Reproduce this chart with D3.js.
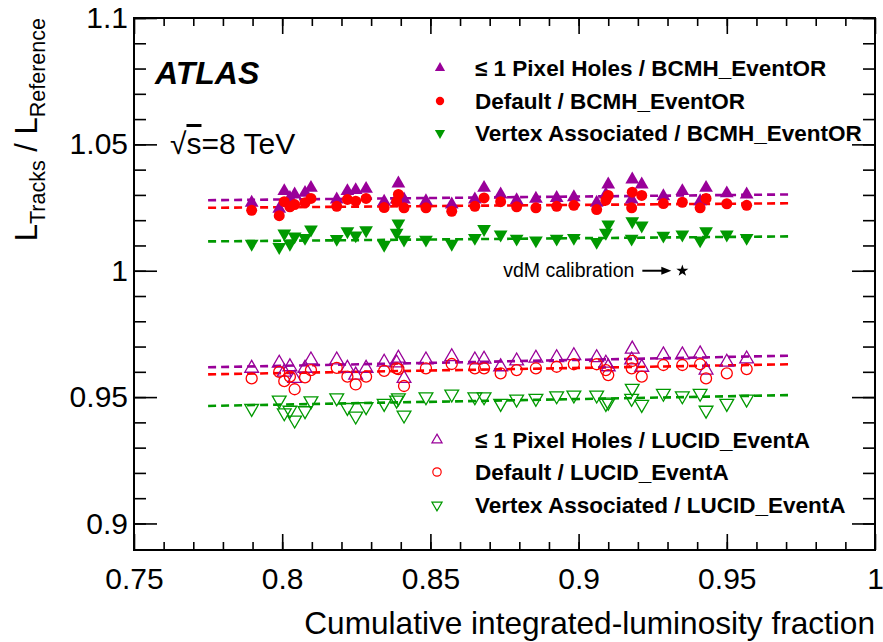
<!DOCTYPE html>
<html>
<head>
<meta charset="utf-8">
<script src="https://cdn.jsdelivr.net/npm/d3@7"></script>
<style>
  body { margin: 0; background: #fff; }
  text { font-family: "Liberation Sans", Arial, Helvetica, sans-serif; }
</style>
</head>
<body>
<script>
// Run positions (cumulative integrated-luminosity fraction).
const xVals = [0.7897,0.7990,0.8007,0.8026,0.8042,0.8077,0.8097,0.8184,0.8220,0.8248,0.8283,0.8344,0.8386,0.8392,0.8411,0.8485,0.8572,0.8650,0.8681,0.8737,0.8791,0.8856,0.8926,0.8984,0.9061,0.9092,0.9100,0.9179,0.9181,0.9213,0.9286,0.9350,0.9410,0.9430,0.9500,0.9567];

// Ratios to BCMH_EventOR (filled markers).
const bcmhPixel   = [1.0269,1.0245,1.0315,1.0288,1.0302,1.0308,1.0328,1.0282,1.0315,1.0319,1.0324,1.0273,1.0282,1.0345,1.0282,1.0275,1.0262,1.0282,1.0328,1.0302,1.0279,1.0285,1.0288,1.0291,1.0269,1.0302,1.0341,1.0282,1.0361,1.0341,1.0295,1.0315,1.0275,1.0328,1.0306,1.0302];
const bcmhDefault = [1.0239,1.0218,1.0273,1.0253,1.0262,1.0269,1.0286,1.0255,1.0282,1.0275,1.0286,1.0250,1.0273,1.0302,1.0249,1.0249,1.0235,1.0255,1.0288,1.0273,1.0253,1.0249,1.0255,1.0259,1.0242,1.0279,1.0298,1.0249,1.0311,1.0298,1.0266,1.0271,1.0249,1.0286,1.0265,1.0259];
const bcmhVertex  = [1.0107,1.0094,1.0147,1.0107,1.0136,1.0130,1.0163,1.0126,1.0156,1.0140,1.0160,1.0103,1.0150,1.0187,1.0123,1.0123,1.0107,1.0130,1.0165,1.0143,1.0127,1.0120,1.0127,1.0130,1.0114,1.0150,1.0183,1.0127,1.0196,1.0179,1.0139,1.0143,1.0120,1.0156,1.0143,1.0130];

// Ratios to LUCID_EventA (open markers).
const lucidPixel   = [0.9614,0.9634,0.9599,0.9620,0.9574,0.9614,0.9647,0.9647,0.9614,0.9587,0.9614,0.9638,0.9635,0.9654,0.9574,0.9647,0.9660,0.9647,0.9650,0.9620,0.9643,0.9654,0.9656,0.9664,0.9656,0.9634,0.9620,0.9647,0.9690,0.9618,0.9667,0.9667,0.9671,0.9607,0.9638,0.9651];
const lucidDefault = [0.9574,0.9600,0.9563,0.9581,0.9531,0.9578,0.9607,0.9616,0.9581,0.9550,0.9581,0.9604,0.9614,0.9611,0.9544,0.9614,0.9631,0.9614,0.9614,0.9594,0.9607,0.9614,0.9620,0.9630,0.9630,0.9607,0.9587,0.9614,0.9643,0.9581,0.9627,0.9627,0.9630,0.9574,0.9594,0.9611];
const lucidVertex  = [0.9455,0.9488,0.9438,0.9448,0.9409,0.9446,0.9485,0.9497,0.9459,0.9425,0.9462,0.9475,0.9488,0.9497,0.9429,0.9501,0.9512,0.9501,0.9501,0.9475,0.9492,0.9495,0.9505,0.9508,0.9508,0.9475,0.9480,0.9495,0.9535,0.9471,0.9515,0.9505,0.9515,0.9448,0.9475,0.9492];

// Straight-line fits: value at the start and at the end of the fit range.
const fitX = [0.775, 0.972];
const fitBcmhPixel   = [1.0279, 1.0302];
const fitBcmhDefault = [1.0249, 1.0267];
const fitBcmhVertex  = [1.0116, 1.0136];
const fitLucidPixel   = [0.9618, 0.9664];
const fitLucidDefault = [0.9590, 0.9630];
const fitLucidVertex  = [0.9465, 0.9508];

// vdM calibration point.
const vdmPoint = [0.935, 1.0];

// Axis ticks.
const xMajor = [0.75, 0.8, 0.85, 0.9, 0.95, 1];
const xLabels = ["0.75", "0.8", "0.85", "0.9", "0.95", "1"];
const yMajor = [0.9, 0.95, 1, 1.05, 1.1];
const yLabels = ["0.9", "0.95", "1", "1.05", "1.1"];

const PURPLE = "#990099", RED = "#ff0000", GREEN = "#009900";

const series = [
  {values: bcmhPixel,    fit: fitBcmhPixel,    color: PURPLE, shape: "up",     filled: true,  label: "≤ 1 Pixel Holes / BCMH_EventOR"},
  {values: bcmhDefault,  fit: fitBcmhDefault,  color: RED,    shape: "circle", filled: true,  label: "Default / BCMH_EventOR"},
  {values: bcmhVertex,   fit: fitBcmhVertex,   color: GREEN,  shape: "down",   filled: true,  label: "Vertex Associated / BCMH_EventOR"},
  {values: lucidPixel,   fit: fitLucidPixel,   color: PURPLE, shape: "up",     filled: false, label: "≤ 1 Pixel Holes / LUCID_EventA"},
  {values: lucidDefault, fit: fitLucidDefault, color: RED,    shape: "circle", filled: false, label: "Default / LUCID_EventA"},
  {values: lucidVertex,  fit: fitLucidVertex,  color: GREEN,  shape: "down",   filled: false, label: "Vertex Associated / LUCID_EventA"}
];

// Frame
const L = 134, R = 875, T = 18, B = 550;
const x = d3.scaleLinear().domain([0.75, 1]).range([L, R]);
const y = d3.scaleLinear().domain([0.8895, 1.1]).range([B, T]);

const svg = d3.select("body").append("svg").attr("width", 883).attr("height", 642);

// Marker path for a shape.
function marker(shape, size) {
  const type = shape === "circle" ? d3.symbolCircle : d3.symbolTriangle;
  return d3.symbol().type(type).size(size)();
}
function markerSize(shape) { return shape === "circle" ? 95 : 82; }

// Fit lines
const line = d3.line().x(d => x(d[0])).y(d => y(d[1]));
series.forEach(s => {
  svg.append("path")
    .attr("d", line([[fitX[0], s.fit[0]], [fitX[1], s.fit[1]]]))
    .attr("fill", "none")
    .attr("stroke", s.color)
    .attr("stroke-width", 2.6)
    .attr("stroke-dasharray", "8,5");
});

// Points
series.forEach(s => {
  svg.append("g").selectAll("path")
    .data(s.values)
    .enter().append("path")
    .attr("d", marker(s.shape, markerSize(s.shape)))
    .attr("transform", (d, i) => `translate(${x(xVals[i])},${y(d)})` + (s.shape === "down" ? " rotate(180)" : ""))
    .attr("fill", s.filled ? s.color : "none")
    .attr("stroke", s.filled ? "none" : s.color)
    .attr("stroke-width", 1.3);
});

// Axes (ticks inward, on all four sides)
const fmtX = d => xLabels[xMajor.indexOf(d)];
const fmtY = d => yLabels[yMajor.indexOf(d)];
const xMinor = d3.range(0.76, 1.0, 0.01).map(v => +v.toFixed(2));
const yMinor = d3.range(0.90, 1.1, 0.01).map(v => +v.toFixed(2));

function styleAxis(g) {
  g.select(".domain").remove();
  g.selectAll("line").attr("stroke", "#000").attr("stroke-width", 1.6);
  g.selectAll("text").attr("font-size", 30).attr("fill", "#000")
    .attr("font-family", "'Liberation Sans', Arial, Helvetica, sans-serif");
}

svg.append("g").attr("transform", `translate(0,${B})`)
  .call(d3.axisBottom(x).tickValues(xMajor).tickSize(-16).tickPadding(18).tickFormat(fmtX)).call(styleAxis);
svg.append("g").attr("transform", `translate(0,${B})`)
  .call(d3.axisBottom(x).tickValues(xMinor).tickSize(-8).tickFormat("")).call(styleAxis);
svg.append("g").attr("transform", `translate(0,${T})`)
  .call(d3.axisTop(x).tickValues(xMajor).tickSize(-16).tickFormat("")).call(styleAxis);
svg.append("g").attr("transform", `translate(0,${T})`)
  .call(d3.axisTop(x).tickValues(xMinor).tickSize(-8).tickFormat("")).call(styleAxis);

svg.append("g").attr("transform", `translate(${L},0)`)
  .call(d3.axisLeft(y).tickValues(yMajor).tickSize(-23).tickPadding(6).tickFormat(fmtY)).call(styleAxis);
svg.append("g").attr("transform", `translate(${L},0)`)
  .call(d3.axisLeft(y).tickValues(yMinor).tickSize(-12).tickFormat("")).call(styleAxis);
svg.append("g").attr("transform", `translate(${R},0)`)
  .call(d3.axisRight(y).tickValues(yMajor).tickSize(-23).tickFormat("")).call(styleAxis);
svg.append("g").attr("transform", `translate(${R},0)`)
  .call(d3.axisRight(y).tickValues(yMinor).tickSize(-12).tickFormat("")).call(styleAxis);

// Frame
svg.append("rect").attr("x", L).attr("y", T).attr("width", R - L).attr("height", B - T)
  .attr("fill", "none").attr("stroke", "#000").attr("stroke-width", 2);

// Axis titles
svg.append("text").attr("x", R).attr("y", 634).attr("text-anchor", "end")
  .attr("font-size", 31.6).text("Cumulative integrated-luminosity fraction");

const yt = svg.append("text").attr("transform", `translate(37,${T}) rotate(-90)`)
  .attr("text-anchor", "end").attr("font-size", 31);
yt.append("tspan").text("L");
yt.append("tspan").attr("font-size", 21.5).attr("dy", 8).text("Tracks");
yt.append("tspan").attr("dy", -8).text(" / L");
yt.append("tspan").attr("font-size", 21.5).attr("dy", 8).text("Reference");

// ATLAS and energy labels
svg.append("text").attr("x", 155).attr("y", 84).attr("font-size", 32)
  .attr("font-weight", "bold").attr("font-style", "italic").text("ATLAS");
const es = svg.append("text").attr("x", 170).attr("y", 154).attr("font-size", 30);
es.append("tspan").text("√");
es.append("tspan").attr("text-decoration", "overline").text("s");
es.append("tspan").text("=8 TeV");

// Legends
function legend(items, mx, tx, rows) {
  items.forEach((s, i) => {
    svg.append("path")
      .attr("d", marker(s.shape, s.shape === "circle" ? 55 : 45))
      .attr("transform", `translate(${mx},${rows[i]})` + (s.shape === "down" ? " rotate(180)" : ""))
      .attr("fill", s.filled ? s.color : "none")
      .attr("stroke", s.filled ? "none" : s.color)
      .attr("stroke-width", 1.2);
    svg.append("text").attr("x", tx).attr("y", rows[i] + 8)
      .attr("font-size", 22.5).attr("font-weight", "bold").text(s.label);
  });
}
legend(series.slice(0, 3), 440, 475, [68, 101, 133]);
legend(series.slice(3), 437, 475, [440, 472, 505]);

// vdM calibration annotation
const vx = x(vdmPoint[0]), vy = y(vdmPoint[1]);
svg.append("path").attr("d", d3.symbol().type(d3.symbolStar).size(45)())
  .attr("transform", `translate(${vx},${vy})`).attr("fill", "#000");
svg.append("line").attr("x1", vx - 40).attr("x2", vx - 20).attr("y1", vy).attr("y2", vy)
  .attr("stroke", "#000").attr("stroke-width", 2);
svg.append("path").attr("d", `M${vx - 21},${vy - 4}L${vx - 11},${vy}L${vx - 21},${vy + 4}Z`).attr("fill", "#000");
svg.append("text").attr("x", vx - 48).attr("y", vy + 6).attr("text-anchor", "end")
  .attr("font-size", 19.5).text("vdM calibration");
</script>
</body>
</html>
